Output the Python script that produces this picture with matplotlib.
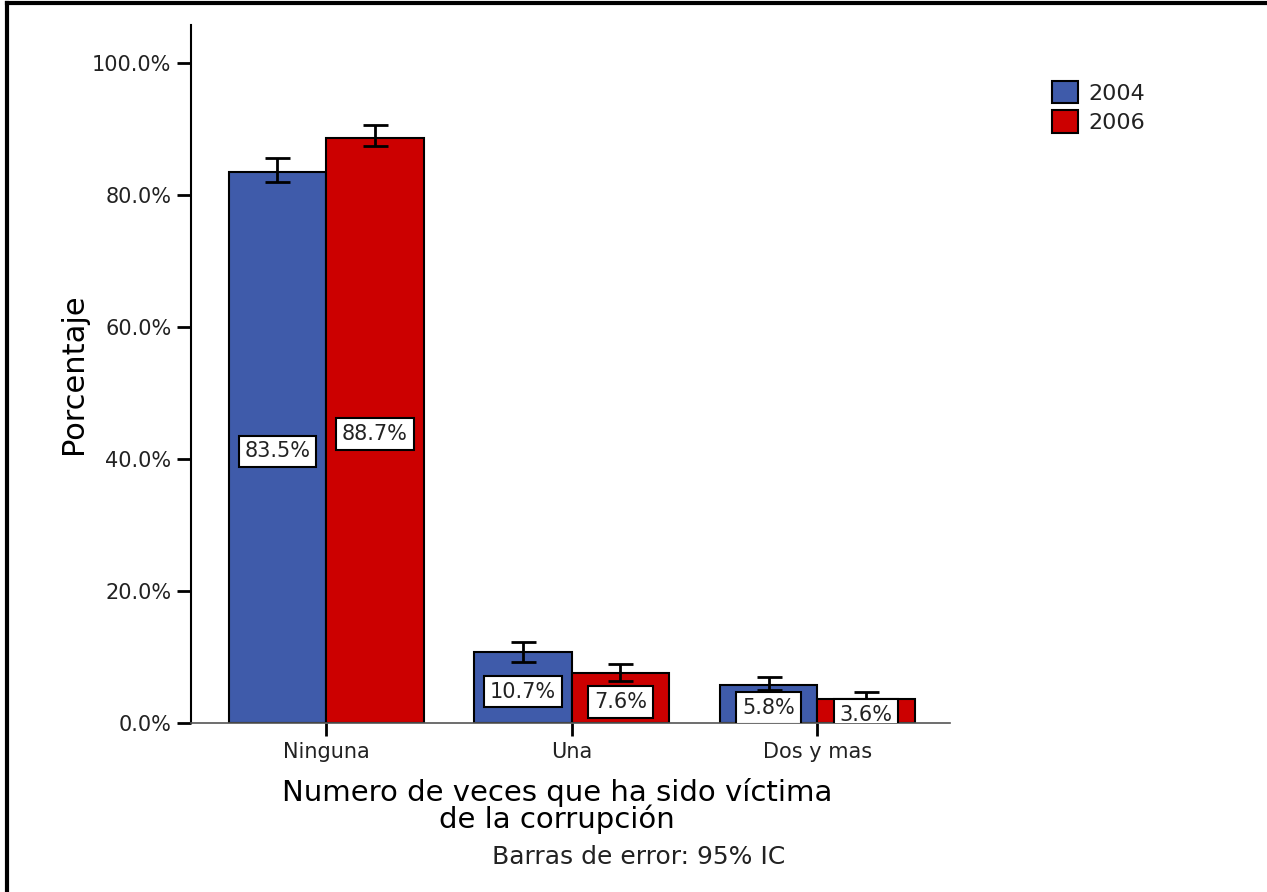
import matplotlib
matplotlib.use("Agg")
import matplotlib.pyplot as plt
import numpy as np
from matplotlib.lines import Line2D
from matplotlib.patches import Patch

categories = ["Ninguna", "Una", "Dos y mas"]
years = ["2004", "2006"]
values_2004 = [83.5, 10.7, 5.8]
values_2006 = [88.7, 7.6, 3.6]
ci_low_2004 = [82.0, 9.2, 5.0]
ci_high_2004 = [85.6, 12.3, 7.0]
ci_low_2006 = [87.4, 6.4, 3.0]
ci_high_2006 = [90.6, 8.9, 4.7]
yticks = [0, 20, 40, 60, 80, 100]

colors = ["#3F5BAA", "#CC0000"]
text_color = "#222222"

plt.rcParams['font.family'] = ['DejaVu Sans']

fig = plt.figure(figsize=(12.67, 8.92), dpi=100)
W, H = 1267, 892
ax = fig.add_axes([191 / W, 1 - 723 / H, (950 - 191) / W, (723 - 25) / H])

x = np.arange(len(categories))
bw = 0.397
series = [
    (values_2004, ci_low_2004, ci_high_2004, -bw / 2, colors[0]),
    (values_2006, ci_low_2006, ci_high_2006, bw / 2, colors[1]),
]
for vals, lo, hi, off, col in series:
    vals = np.array(vals)
    ax.bar(x + off, vals, width=bw, color=col, edgecolor="black", linewidth=1.5, zorder=2)
    yerr = np.vstack([vals - np.array(lo), np.array(hi) - vals])
    ax.errorbar(x + off, vals, yerr=yerr, fmt="none", ecolor="black",
                elinewidth=2, capsize=9, capthick=2, zorder=4)
    for xi, v in zip(x + off, vals):
        ax.text(xi, v / 2 - 0.6, f"{v:.1f}%", ha="center", va="center", fontsize=15,
                color=text_color, zorder=5, clip_on=True,
                bbox=dict(boxstyle="square,pad=0.28", facecolor="white",
                          edgecolor="black", linewidth=1.5))

ax.set_xlim(-0.55, 2.54)
ax.set_ylim(0, 105.76)
ax.set_yticks(yticks)
ax.set_yticklabels([f"{t:.1f}%" for t in yticks], fontsize=15, color=text_color)
ax.set_xticks(x)
ax.set_xticklabels(categories, fontsize=15, color=text_color)
ax.tick_params(axis="y", length=10, width=2, pad=4)
ax.tick_params(axis="x", length=9, width=2, pad=5)
for s in ["top", "right"]:
    ax.spines[s].set_visible(False)
ax.spines["left"].set_linewidth(1.5)
ax.spines["bottom"].set_linewidth(1.2)
ax.spines["bottom"].set_color("#555555")

ax.set_ylabel("Porcentaje", fontsize=22, color="black")
ax.yaxis.set_label_coords((88 - 191) / (950 - 191), 0.5)
fig.text(557 / W, 1 - 806 / H, "Numero de veces que ha sido víctima\nde la corrupción",
         ha="center", va="center", fontsize=21,
         linespacing=0.9, color="black")
fig.text(639 / W, 1 - 857 / H, "Barras de error: 95% IC", ha="center", va="center",
         fontsize=18, color=text_color)

handles = [Patch(facecolor=colors[0], edgecolor="black", linewidth=1.5),
           Patch(facecolor=colors[1], edgecolor="black", linewidth=1.5)]
fig.legend(handles, years, loc="upper left", bbox_to_anchor=(1045 / W, 1 - 74 / H),
           frameon=False, fontsize=16, handlelength=1.2, handleheight=1.2,
           handletextpad=0.45, labelspacing=0.3, labelcolor=text_color,
           borderaxespad=0, borderpad=0.3)

# figure frame (top and left)
fig.add_artist(Line2D([7 / W, 1], [1 - 3 / H, 1 - 3 / H], color="black", linewidth=3,
                      transform=fig.transFigure))
fig.add_artist(Line2D([7 / W, 7 / W], [0, 1 - 3 / H], color="black", linewidth=3,
                      transform=fig.transFigure))

fig.savefig("out.png", dpi=100)
